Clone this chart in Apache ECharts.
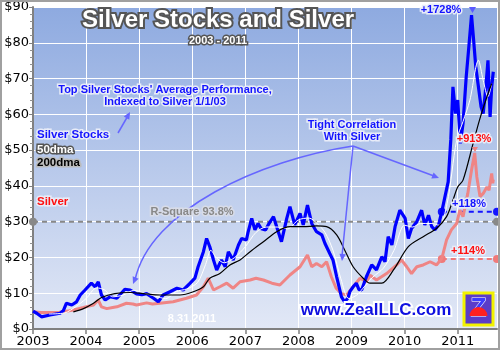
<!DOCTYPE html>
<html><head><meta charset="utf-8">
<script src="https://cdn.jsdelivr.net/npm/echarts@6/dist/echarts.min.js"></script>
<style>html,body{margin:0;padding:0;background:#fff}#c{width:500px;height:350px}</style>
</head><body><div id="c"></div>
<script>
// ---- data ----
const yearTicks = [2003, 2004, 2005, 2006, 2007, 2008, 2009, 2010, 2011];
const priceTicks = [0, 10, 20, 30, 40, 50, 60, 70, 80, 90];

const stocksX = [2003.00,2003.07,2003.16,2003.32,2003.51,2003.57,2003.63,2003.73,2003.82,2003.89,2003.98,2004.10,2004.17,2004.23,2004.29,2004.36,2004.45,2004.58,2004.73,2004.83,2004.95,2005.05,2005.14,2005.27,2005.36,2005.45,2005.58,2005.71,2005.83,2005.96,2006.05,2006.11,2006.21,2006.27,2006.33,2006.40,2006.46,2006.55,2006.62,2006.68,2006.77,2006.87,2006.93,2007.02,2007.05,2007.12,2007.18,2007.24,2007.30,2007.38,2007.43,2007.53,2007.62,2007.68,2007.78,2007.84,2007.93,2008.03,2008.09,2008.17,2008.25,2008.34,2008.44,2008.50,2008.59,2008.65,2008.72,2008.81,2008.87,2008.93,2008.97,2009.03,2009.09,2009.14,2009.19,2009.28,2009.38,2009.47,2009.57,2009.63,2009.69,2009.76,2009.82,2009.91,2010.01,2010.07,2010.13,2010.23,2010.32,2010.38,2010.45,2010.51,2010.57,2010.64,2010.70,2010.76,2010.82,2010.84,2010.87,2010.91,2010.96,2011.00,2011.05,2011.10,2011.16,2011.21,2011.26,2011.30,2011.34,2011.39,2011.44,2011.48,2011.53,2011.57,2011.61,2011.64,2011.67];
const stocksY = [5.0,4.4,3.4,3.9,4.4,5.1,7.2,6.7,7.6,9.5,10.9,12.8,11.8,13.2,9.5,8.1,9.0,8.6,11.1,10.9,9.8,9.6,9.9,8.6,7.6,9.5,10.4,11.4,10.9,12.8,14.2,17.4,21.6,25.3,23.0,19.3,16.5,19.3,17.4,21.6,19.3,23.5,25.3,24.9,27.0,30.9,27.7,29.5,28.0,27.7,29.1,31.4,27.2,24.4,30.9,34.2,29.1,32.3,29.1,34.6,29.5,27.2,26.3,23.9,21.1,19.3,14.6,9.0,7.6,8.6,10.5,11.8,12.8,11.0,10.9,14.6,17.9,16.5,20.2,18.8,25.8,23.5,28.6,33.2,30.9,25.3,28.1,30.0,33.2,29.1,31.8,28.6,27.7,29.1,32.8,37.0,41.1,46.0,53.0,67.7,60.2,64.0,51.9,57.4,70.5,78.9,87.7,80.7,73.3,67.7,62.1,60.2,67.7,75.1,59.3,67.7,71.9];

const ma50X = [2003.30,2003.60,2003.80,2004.00,2004.20,2004.35,2004.50,2004.70,2004.90,2005.10,2005.30,2005.50,2005.70,2005.90,2006.10,2006.25,2006.35,2006.45,2006.60,2006.80,2007.00,2007.20,2007.40,2007.60,2007.80,2008.00,2008.20,2008.35,2008.50,2008.65,2008.80,2008.95,2009.10,2009.25,2009.40,2009.60,2009.80,2010.00,2010.15,2010.30,2010.50,2010.65,2010.80,2010.98,2011.10,2011.23,2011.39,2011.48,2011.57,2011.64];
const ma50Y = [4.2,4.5,6.2,8.5,11.5,10.9,9.0,9.5,10.8,10.0,9.2,8.5,10.5,11.2,13.0,18.0,22.0,20.0,18.5,20.0,23.0,27.0,28.5,28.5,28.0,30.5,31.0,29.5,27.0,22.0,14.0,8.5,9.5,12.0,14.5,17.0,22.0,29.0,28.5,29.5,29.5,29.0,35.0,52.8,58.0,64.0,75.1,69.5,64.9,68.6];

const ma200X = [2003.76,2003.95,2004.14,2004.29,2004.54,2004.83,2005.08,2005.39,2005.77,2006.02,2006.21,2006.33,2006.52,2006.71,2006.90,2007.09,2007.34,2007.59,2007.84,2008.09,2008.34,2008.53,2008.72,2008.87,2009.03,2009.22,2009.35,2009.57,2009.79,2010.07,2010.35,2010.60,2010.79,2010.91,2011.00,2011.10,2011.29,2011.41,2011.53,2011.64];
const ma200Y = [4.8,5.7,7.2,8.8,9.9,10.2,9.9,9.5,9.5,10.4,11.8,14.2,15.5,17.9,19.3,21.6,24.4,27.2,28.6,28.6,28.8,28.6,26.3,22.1,17.4,14.2,12.8,12.8,16.5,23.0,25.8,28.1,31.4,36.0,39.7,41.6,51.9,58.4,64.0,68.6];

const silverX = [2003.00,2003.15,2003.30,2003.50,2003.65,2003.76,2003.95,2004.05,2004.14,2004.23,2004.29,2004.39,2004.50,2004.58,2004.76,2004.88,2004.95,2005.14,2005.25,2005.39,2005.64,2005.89,2006.08,2006.21,2006.30,2006.40,2006.52,2006.65,2006.77,2006.90,2007.09,2007.20,2007.34,2007.50,2007.65,2007.84,2008.03,2008.17,2008.25,2008.34,2008.44,2008.53,2008.62,2008.71,2008.81,2008.91,2009.03,2009.16,2009.28,2009.35,2009.47,2009.66,2009.85,2009.94,2010.04,2010.13,2010.23,2010.35,2010.48,2010.60,2010.70,2010.79,2010.88,2010.98,2011.04,2011.10,2011.19,2011.26,2011.32,2011.36,2011.42,2011.48,2011.55,2011.59,2011.64,2011.66,2011.67];
const silverY = [4.8,4.6,4.6,4.7,5.0,5.3,6.0,6.4,6.7,8.1,6.2,5.7,6.0,6.2,7.2,7.0,6.7,7.3,7.0,7.2,7.6,8.6,9.5,11.8,14.2,10.9,11.8,12.8,11.4,13.2,13.7,14.2,13.7,12.8,12.3,15.1,17.4,20.7,17.4,18.3,17.4,18.8,14.6,11.4,9.9,9.5,11.8,14.2,13.2,15.0,13.7,15.5,17.9,19.3,17.4,15.5,17.4,17.9,18.8,17.9,19.7,24.9,27.7,29.5,33.2,31.4,37.9,44.4,49.2,42.5,37.0,37.9,39.7,38.8,43.5,40.7,41.8];

const rsqX = [2003, 2011.74];   const rsqY = [30, 30];
const stk1yX = [2010.70, 2011.74]; const stk1yY = [32.8, 32.8];
const slv1yX = [2010.70, 2011.74]; const slv1yY = [19.6, 19.6];

// ---- build ----
const zip = (xs, ys) => xs.map((x, i) => [x, ys[i]]);
const chart = echarts.init(document.getElementById('c'), null, {renderer: 'canvas'});
const F = 'Liberation Sans, Arial, sans-serif';

function txt(x, y, text, size, fill, stroke, lw, align) {
  return {type: 'text', x: x, y: y, z: 100,
    style: {text: text, font: 'bold ' + size + 'px ' + F, fill: fill, stroke: stroke, lineWidth: lw || 0,
      strokeFirst: true, align: align || 'center', verticalAlign: 'middle'}};
}
function head(tx, ty, fx, fy, color) {
  const a = Math.atan2(ty - fy, tx - fx), L = 7, W = 3.2;
  const bx = tx - L * Math.cos(a), by = ty - L * Math.sin(a);
  return {type: 'polygon', z: 90, shape: {points: [[tx, ty],
    [bx + W * Math.sin(a), by - W * Math.cos(a)], [bx - W * Math.sin(a), by + W * Math.cos(a)]]},
    style: {fill: color}};
}
const AC = '#6666ff';
const arrowStyle = {stroke: AC, lineWidth: 1.5, fill: null};

const graphics = [
  {type: 'rect', z: 200, shape: {x: 1, y: 1, width: 498, height: 348}, style: {fill: null, stroke: '#a0a0a0', lineWidth: 2}},
  // arrows
  {type: 'line', z: 90, shape: {x1: 118, y1: 133, x2: 129, y2: 114}, style: arrowStyle},
  head(130, 112, 118, 133, AC),
  {type: 'bezierCurve', z: 90, shape: {x1: 353, y1: 146, cpx1: 260, cpy1: 160, cpx2: 150, cpy2: 210, x2: 135, y2: 280}, style: arrowStyle},
  head(133, 284, 142, 262, AC),
  {type: 'line', z: 90, shape: {x1: 353, y1: 146, x2: 342, y2: 256}, style: arrowStyle},
  head(342, 261, 353, 146, AC),
  {type: 'line', z: 90, shape: {x1: 353, y1: 146, x2: 434, y2: 176}, style: arrowStyle},
  head(439, 178, 353, 146, AC),
  // titles
  txt(218, 20, 'Silver Stocks and Silver', 24, '#ffffff', '#555555', 4),
  txt(218, 41, '2003 - 2011', 11, '#ffffff', '#555555', 3),
  txt(165, 90, "Top Silver Stocks' Average Performance,", 11, '#1414ff', '#e8ecf8', 3),
  txt(165, 102, 'Indexed to Silver 1/1/03', 11, '#1414ff', '#e8ecf8', 3),
  // legend-like labels
  txt(37, 135, 'Silver Stocks', 11.5, '#1414ff', '#e8ecf8', 3, 'left'),
  txt(37, 150, '50dma', 11.5, '#ffffff', '#555555', 3, 'left'),
  txt(37, 163, '200dma', 11.5, '#000000', '#bbbbbb', 3, 'left'),
  txt(37, 202, 'Silver', 11.5, '#ff1010', '#e8ecf8', 3, 'left'),
  txt(192, 212, 'R-Square 93.8%', 11, '#888888', '#d8dce8', 3),
  txt(352, 125, 'Tight Correlation', 11, '#1414ff', '#e8ecf8', 3),
  txt(352, 137, 'With Silver', 11, '#1414ff', '#e8ecf8', 3),
  txt(441, 10, '+1728%', 11, '#1414ff', '#e8ecf8', 3),
  {type: 'polygon', z: 100, shape: {points: [[469, 7], [476, 7], [472.5, 13]]}, style: {fill: '#5a5aff'}},
  txt(474, 139, '+913%', 11, '#ff1010', '#e8ecf8', 3),
  {type: 'polygon', z: 100, shape: {points: [[472, 147], [478, 147], [475, 152]]}, style: {fill: '#f08080'}},
  txt(469, 204, '+118%', 11, '#1414ff', '#e8ecf8', 3),
  txt(468, 251, '+114%', 11, '#ff1010', '#e8ecf8', 3),
  txt(192, 319, '8.31.2011', 11, '#ffffff', null, 0),
  txt(376, 310, 'www.ZealLLC.com', 17, '#1010e0', '#ffffff', 4),
  // logo
  {type: 'rect', z: 100, shape: {x: 464, y: 293, width: 29, height: 32}, style: {fill: '#5a3cc8', stroke: '#f2f200', lineWidth: 3}},
  {type: 'text', z: 101, x: 478.5, y: 309, style: {text: 'Z', font: 'bold 26px ' + F, fill: '#3c3cff', stroke: '#ffffff', lineWidth: 1, align: 'center', verticalAlign: 'middle'}},
  {type: 'sector', z: 102, shape: {cx: 478.5, cy: 316, r: 9, r0: 0, startAngle: Math.PI, endAngle: 2 * Math.PI}, style: {fill: '#ff2020'}}
];

function lineSeries(name, data, color, width, z, extra) {
  return Object.assign({type: 'line', name: name, data: data, showSymbol: false, symbol: 'none', z: z,
    lineStyle: {color: color, width: width}, itemStyle: {color: color}, silent: true, animation: false}, extra || {});
}
const dashed = (name, data, color) => lineSeries(name, data, color, 2, 5, {
  symbol: 'circle', symbolSize: 8, showSymbol: true, clip: false,
  lineStyle: {color: color, width: 2, type: [5, 4]}});

chart.setOption({
  animation: false,
  backgroundColor: '#ffffff',
  grid: {left: 33, right: 3, top: 7, bottom: 21, show: true, borderWidth: 0,
    backgroundColor: new echarts.graphic.LinearGradient(0, 0, 0, 1, [{offset: 0, color: '#8eaae0'}, {offset: 1, color: '#e2e8f6'}])},
  xAxis: {type: 'value', min: yearTicks[0], max: 2011.74, interval: 1,
    axisLine: {show: true, lineStyle: {color: '#808080', width: 2}},
    axisTick: {show: true, length: 5, lineStyle: {color: '#808080', width: 1.5}},
    axisLabel: {color: '#000', fontSize: 13, fontFamily: 'DejaVu Sans', margin: 6, showMaxLabel: false,
      formatter: v => (Math.abs(v - Math.round(v)) < 1e-6 && yearTicks.includes(Math.round(v))) ? String(Math.round(v)) : ''},
    splitLine: {show: true, lineStyle: {color: '#ffffff', width: 1}}},
  yAxis: {type: 'value', min: priceTicks[0], max: priceTicks[priceTicks.length - 1], interval: 10,
    axisLine: {show: true, lineStyle: {color: '#808080', width: 2}},
    axisTick: {show: true, length: 4, lineStyle: {color: '#808080'}},
    minorTick: {show: true, splitNumber: 5, length: 3, lineStyle: {color: '#909090'}},
    axisLabel: {color: '#000', fontSize: 13, fontFamily: 'DejaVu Sans', margin: 4, formatter: v => '$' + v},
    splitLine: {show: true, lineStyle: {color: '#ffffff', width: 1}}},
  series: [
    dashed('R-Square', zip(rsqX, rsqY), '#888888'),
    lineSeries('Silver', zip(silverX, silverY), '#ef8585', 3, 6),
    dashed('Silver 1y', zip(slv1yX, slv1yY), '#f07a7a'),
    lineSeries('Silver Stocks', zip(stocksX, stocksY), '#0000ff', 3.2, 7),
    dashed('Stocks 1y', zip(stk1yX, stk1yY), '#1414ff'),
    lineSeries('50dma', zip(ma50X, ma50Y), '#ffffff', 1, 8, {smooth: 0.3}),
    lineSeries('200dma', zip(ma200X, ma200Y), '#000000', 1.2, 9, {smooth: 0.3})
  ],
  graphic: graphics
});
</script></body></html>
